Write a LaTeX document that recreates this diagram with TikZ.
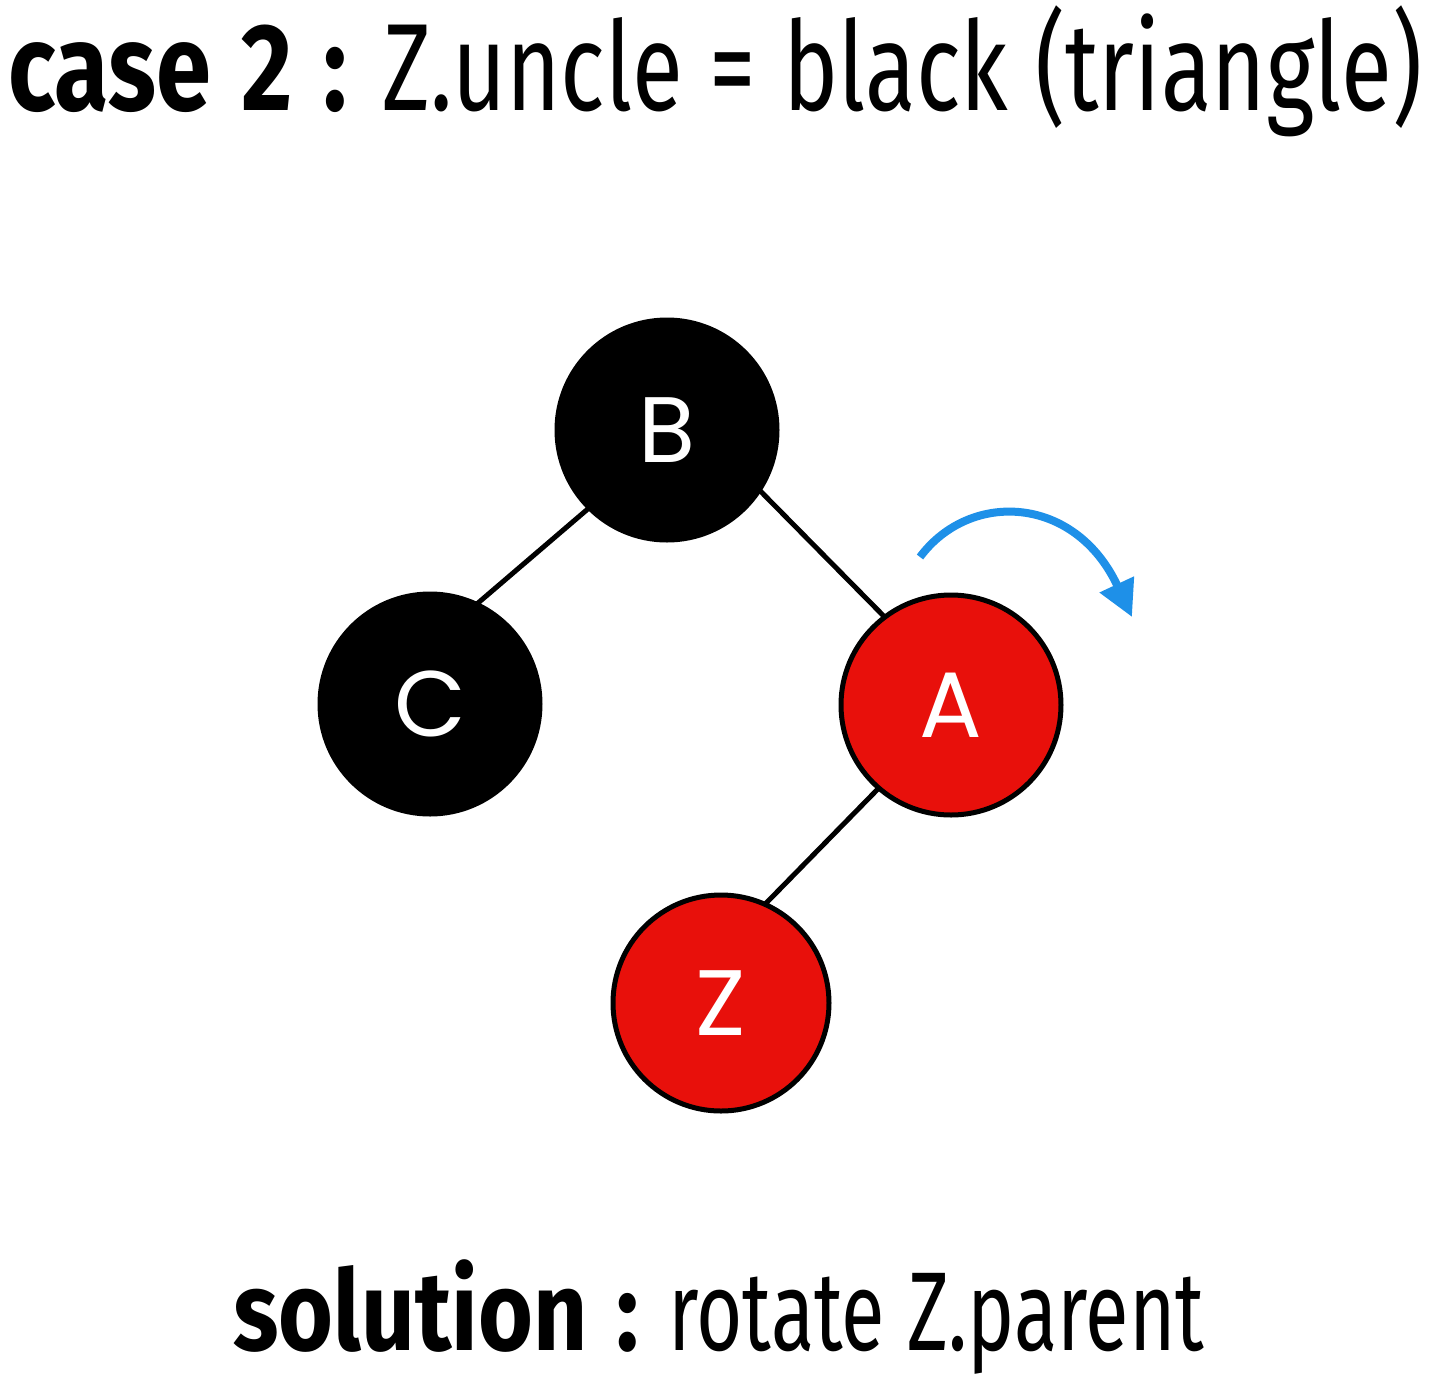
\documentclass[tikz,border=0pt]{standalone}
\usepackage{fontspec}
\setmainfont{Fira Sans}
\newfontfamily\titlereg{Fira Sans}[FakeStretch=0.75, WordSpace=1.1]
\newfontfamily\titlebold{Fira Sans}[FakeStretch=0.80, WordSpace=1.3]
\newfontfamily\solreg{Fira Sans}[FakeStretch=0.71, WordSpace=1.05]
\newfontfamily\solbold{Fira Sans}[FakeStretch=0.84, WordSpace=1.3]
\newfontfamily\letterfont{Poppins}
\usetikzlibrary{arrows.meta}
\definecolor{nodered}{HTML}{E8100B}
\definecolor{arrowblue}{HTML}{1E90E8}
\tikzset{
  rbnode/.style={circle, inner sep=0pt, outer sep=0pt, minimum size=220pt, line width=5pt,
    font=\letterfont\fontsize{93}{93}\selectfont, text=white},
  blacknode/.style={rbnode, fill=black, draw=black},
  rednode/.style={rbnode, fill=nodered, draw=black},
  edge/.style={line width=5pt, black},
  rotarrow/.style={line width=8pt, arrowblue, -{Triangle[length=36pt,width=36pt]}},
  titletext/.style={anchor=base west, inner sep=0pt, font=\titlereg\fontsize{124}{124}\selectfont},
  soltext/.style={anchor=base west, inner sep=0pt, font=\solreg\fontsize{112}{112}\selectfont}
}
\begin{document}
\begin{tikzpicture}[x=1pt,y=-1pt]
\useasboundingbox[fill=white] (0,0) rectangle (1444,1385);
\node[titletext] (title) at (8,110) {{\titlebold\bfseries case 2 :} Z.uncle = black (triangle)};
\node[blacknode] (B) at (667,430) {B};
\node[blacknode] (C) at (430,704) {C};
\node[rednode] (A) at (951,705) {A};
\node[rednode, minimum size=216pt] (Z) at (721,1003) {Z};
\draw[edge] (B.225) -- (C.65);
\draw[edge] (B.-33) -- (A.127);
\draw[edge] (A.229) -- (Z.66);
\coordinate (rs) at (920,557);
\coordinate (re) at (1132,617);
\draw[rotarrow] (rs) .. controls (970,490) and (1075,495) .. (re);
\node[soltext] (sol) at (233,1350) {{\solbold\bfseries solution :} rotate Z.parent};
\end{tikzpicture}
\end{document}
